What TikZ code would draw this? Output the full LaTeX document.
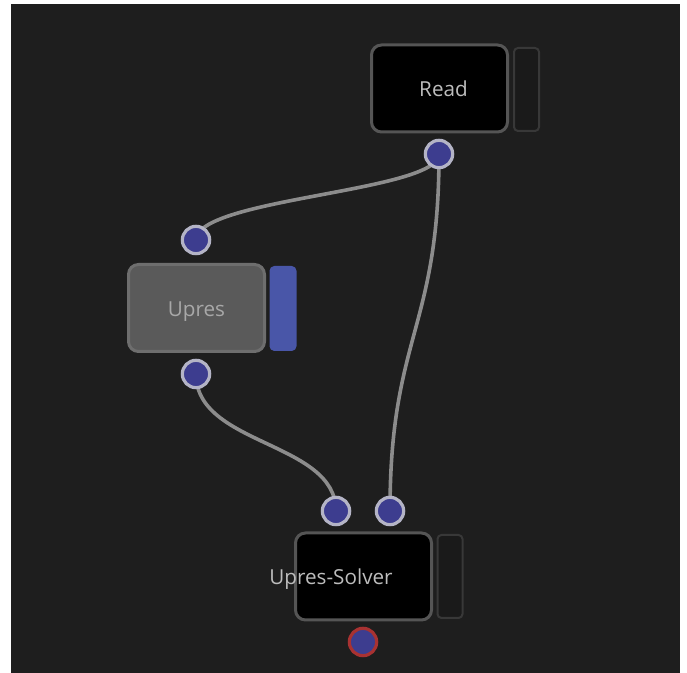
\documentclass[tikz,border=0pt]{standalone}
\usepackage{fontspec}
\setmainfont{Open Sans}
\definecolor{canvas}{HTML}{1E1E1E}
\definecolor{boxedge}{HTML}{555555}
\definecolor{sideedge}{HTML}{383838}
\definecolor{sidefill}{HTML}{1A1A1A}
\definecolor{activefill}{HTML}{5A5A5A}
\definecolor{activeedge}{HTML}{6E6E6E}
\definecolor{activeside}{HTML}{4956A8}
\definecolor{labeltext}{HTML}{BDBDBD}
\definecolor{dimtext}{HTML}{A8A8A8}
\definecolor{wire}{HTML}{8C8C8C}
\definecolor{portfill}{HTML}{3D3D8F}
\definecolor{portedge}{HTML}{B4B4C6}
\definecolor{outedge}{HTML}{A83232}
\pgfdeclarelayer{bg}
\pgfdeclarelayer{wires}
\pgfsetlayers{bg,wires,main}
\begin{document}
\begin{tikzpicture}[x=0.75pt,y=-0.75pt,
  oplabel/.style={font=\fontsize{15.5}{18}\selectfont, text=labeltext,
    inner sep=0pt, anchor=base},
  opbox/.style={draw=boxedge, fill=black, line width=2.25pt,
    rounded corners=7.5pt, minimum width=102pt, minimum height=65.25pt,
    inner sep=0pt},
  activebox/.style={opbox, fill=activefill, draw=activeedge},
  sidebar/.style={draw=sideedge, fill=sidefill, line width=1.5pt,
    rounded corners=3pt, minimum width=18.75pt, minimum height=62.25pt, inner sep=0pt},
  activebar/.style={sidebar, fill=activeside, draw=activeside},
  port/.style={circle, draw=portedge, fill=portfill, line width=2.4pt,
    minimum size=20.5pt, inner sep=0pt},
  outport/.style={port, draw=outedge},
  link/.style={draw=wire, line width=2.7pt}]

% canvas with its thin white margins
\begin{pgfonlayer}{bg}
  \fill[white] (0,0) rectangle (687,673);
  \fill[canvas] (11,4) rectangle (680,673);
\end{pgfonlayer}

% operator boxes
\node[opbox] (read) at (439.5,88.5) {};
\node[sidebar] (readbar) at (526.5,89.5) {};
\node[activebox] (upres) at (196.5,308) {};
\node[activebar] (upresbar) at (283,308.5) {};
\node[opbox] (solver) at (363.5,576.5) {};
\node[sidebar] (solverbar) at (450,576.5) {};

% operator names, placed on their baselines
\node[oplabel] (readlabel) at (443.5,97) {Read};
\node[oplabel, text=dimtext] (upreslabel) at (196.5,317) {Upres};
\node[oplabel] (solverlabel) at (331,585) {Upres-Solver};

% ports
\node[port] (readout) at (439,154) {};
\node[port] (upresin) at (196,240) {};
\node[port] (upresout) at (196,374) {};
\node[port] (solverinA) at (336,511) {};
\node[port] (solverinB) at (390,511) {};
\node[outport] (solverout) at (363,642) {};

% connections
\begin{pgfonlayer}{wires}
  \path[link] (readout.center) .. controls +(0,38) and +(0,-42) .. (upresin.center);
  \path[link] (readout.center) .. controls +(0,175) and +(0,-175) .. (solverinB.center);
  \path[link] (upresout.center) .. controls +(0,72) and +(0,-70) .. (solverinA.center);
\end{pgfonlayer}
\end{tikzpicture}
\end{document}
